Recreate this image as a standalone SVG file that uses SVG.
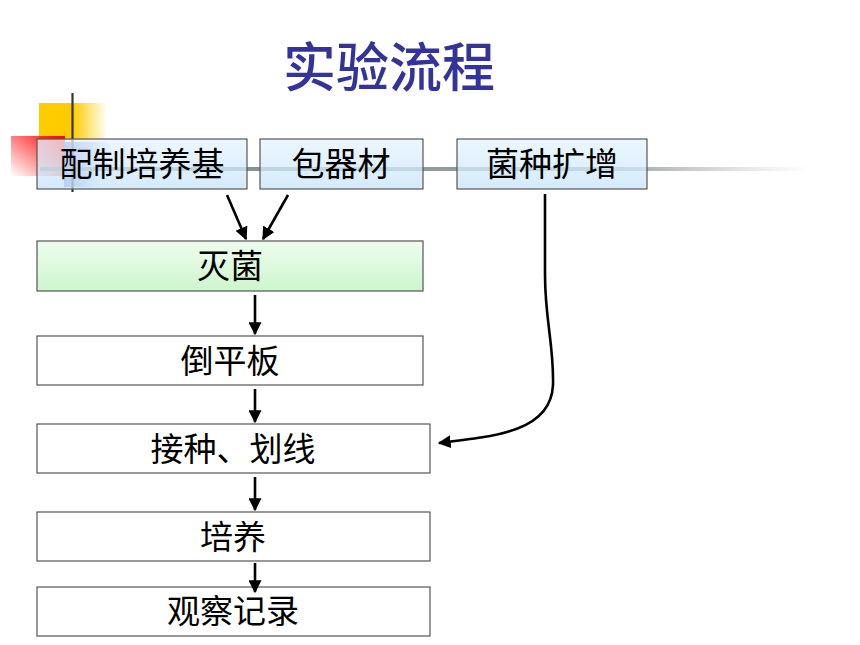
<svg xmlns="http://www.w3.org/2000/svg" width="860" height="645" viewBox="0 0 860 645">
<defs>
<style>
.box{stroke:#555;stroke-width:1.2}
.lbl{font-family:"Noto Sans CJK SC","Liberation Sans",sans-serif;font-size:33px;fill:#000;text-anchor:middle}
.title{font-family:"Noto Sans CJK SC","Liberation Sans",sans-serif;font-size:53px;font-weight:500;fill:#333399;text-anchor:middle}
.con{stroke:#000;stroke-width:2.6;fill:none}
</style>
<linearGradient id="gBlue" x1="0" y1="0" x2="0" y2="1">
<stop offset="0" stop-color="#E6F4FF" stop-opacity="0.75"/>
<stop offset="1" stop-color="#C6E4FA" stop-opacity="0.75"/>
</linearGradient>
<linearGradient id="gGreen" x1="0" y1="0" x2="0" y2="1">
<stop offset="0" stop-color="#EEFDEE"/>
<stop offset="1" stop-color="#CDF5CD"/>
</linearGradient>
<linearGradient id="gYellow" x1="0" y1="0" x2="1" y2="0">
<stop offset="0" stop-color="#FFCC00"/>
<stop offset="0.5" stop-color="#FFCC00"/>
<stop offset="1" stop-color="#FFCC00" stop-opacity="0"/>
</linearGradient>
<linearGradient id="gRed" x1="1" y1="0" x2="0" y2="1">
<stop offset="0" stop-color="#FF0000"/>
<stop offset="1" stop-color="#FF0000" stop-opacity="0"/>
</linearGradient>
<linearGradient id="gBlueDec" x1="0" y1="0" x2="1" y2="0.3">
<stop offset="0" stop-color="#5F6FD0"/>
<stop offset="1" stop-color="#5F6FD0" stop-opacity="0"/>
</linearGradient>
<linearGradient id="gLine" x1="0" y1="0" x2="1" y2="0">
<stop offset="0" stop-color="#7E8C8C"/>
<stop offset="0.75" stop-color="#9AA2A2"/>
<stop offset="1" stop-color="#C0C0C0" stop-opacity="0"/>
</linearGradient>
<marker id="arr" viewBox="0 0 10 10" refX="9" refY="5" markerWidth="5" markerHeight="5" markerUnits="strokeWidth" orient="auto">
<path d="M0,0 L10,5 L0,10 Z" fill="#000"/>
</marker>
</defs>
<rect width="860" height="645" fill="#fff"/>
<g id="decor">
<rect x="39" y="103" width="68" height="37" fill="url(#gYellow)"/>
<rect x="11" y="136" width="54" height="40" fill="url(#gRed)"/>
<rect x="64" y="142" width="46" height="45" fill="url(#gBlueDec)"/>
<rect x="40" y="167" width="770" height="4" fill="url(#gLine)"/>
<line x1="72.5" y1="93" x2="72.5" y2="192" stroke="#333" stroke-width="2.2"/>
</g>
<text class="title" x="389" y="87">实验流程</text>
<g id="n1"><rect class="box" x="37" y="139" width="210" height="50" fill="url(#gBlue)"/><text class="lbl" x="142" y="176">配制培养基</text></g>
<g id="n2"><rect class="box" x="260" y="139" width="163" height="50" fill="url(#gBlue)"/><text class="lbl" x="341" y="176">包器材</text></g>
<g id="n3"><rect class="box" x="457" y="139" width="190" height="50" fill="url(#gBlue)"/><text class="lbl" x="552" y="176">菌种扩增</text></g>
<g id="n4"><rect class="box" x="37" y="241" width="386" height="50" fill="url(#gGreen)"/><text class="lbl" x="230" y="278">灭菌</text></g>
<g id="n5"><rect class="box" x="37" y="336" width="386" height="49" fill="#fff"/><text class="lbl" x="230" y="373">倒平板</text></g>
<g id="n6"><rect class="box" x="37" y="424" width="393" height="49" fill="#fff"/><text class="lbl" x="233" y="461">接种、划线</text></g>
<g id="n7"><rect class="box" x="37" y="512" width="393" height="49" fill="#fff"/><text class="lbl" x="233" y="549">培养</text></g>
<g id="n8"><rect class="box" x="37" y="587" width="393" height="49" fill="#fff"/><text class="lbl" x="233" y="623">观察记录</text></g>
<g id="connectors">
<line class="con" x1="227" y1="195" x2="246" y2="239" marker-end="url(#arr)"/>
<line class="con" x1="288" y1="195" x2="263" y2="239" marker-end="url(#arr)"/>
<line class="con" x1="255" y1="295" x2="255" y2="334" marker-end="url(#arr)"/>
<line class="con" x1="255" y1="389" x2="255" y2="422" marker-end="url(#arr)"/>
<line class="con" x1="255" y1="477" x2="255" y2="510" marker-end="url(#arr)"/>
<line class="con" x1="255" y1="563" x2="255" y2="592" marker-end="url(#arr)"/>
<path class="con" d="M545,194 L545,275 C545,320 554,345 553,385 C551,430 500,436 439,443" marker-end="url(#arr)"/>
</g>
</svg>
